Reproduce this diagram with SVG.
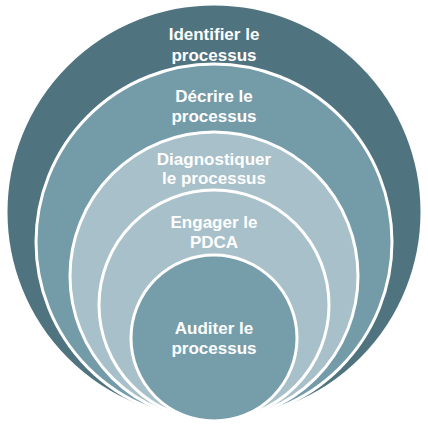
<svg xmlns="http://www.w3.org/2000/svg" width="428" height="424" viewBox="0 0 428 424">
<style>
.ring{stroke:#ffffff;stroke-width:3}
.lbl{font-family:"Liberation Sans",Arial,sans-serif;font-size:17px;font-weight:bold;fill:#ffffff;text-anchor:middle}
</style>
<rect width="428" height="424" fill="#ffffff"/>
<g id="node1">
<circle class="ring" cx="214" cy="212" r="208" fill="#4F737F"/>
<text class="lbl" x="214" y="40">Identifier le</text>
<text class="lbl" x="214" y="61">processus</text>
</g>
<g id="node2">
<circle class="ring" cx="214" cy="242" r="178" fill="#749BA8"/>
<text class="lbl" x="214" y="102">Décrire le</text>
<text class="lbl" x="214" y="122">processus</text>
</g>
<g id="node3">
<circle class="ring" cx="214" cy="276" r="144" fill="#A8C0C9"/>
<text class="lbl" x="214" y="165">Diagnostiquer</text>
<text class="lbl" x="214" y="184">le processus</text>
</g>
<g id="node4">
<circle class="ring" cx="214" cy="305" r="115" fill="#A8C0C9"/>
<text class="lbl" x="214" y="228">Engager le</text>
<text class="lbl" x="214" y="248">PDCA</text>
</g>
<g id="node5">
<circle class="ring" cx="214" cy="338" r="83" fill="#759EAA"/>
<text class="lbl" x="214" y="334">Auditer le</text>
<text class="lbl" x="214" y="354">processus</text>
</g>
<g id="connectors"></g>
</svg>
